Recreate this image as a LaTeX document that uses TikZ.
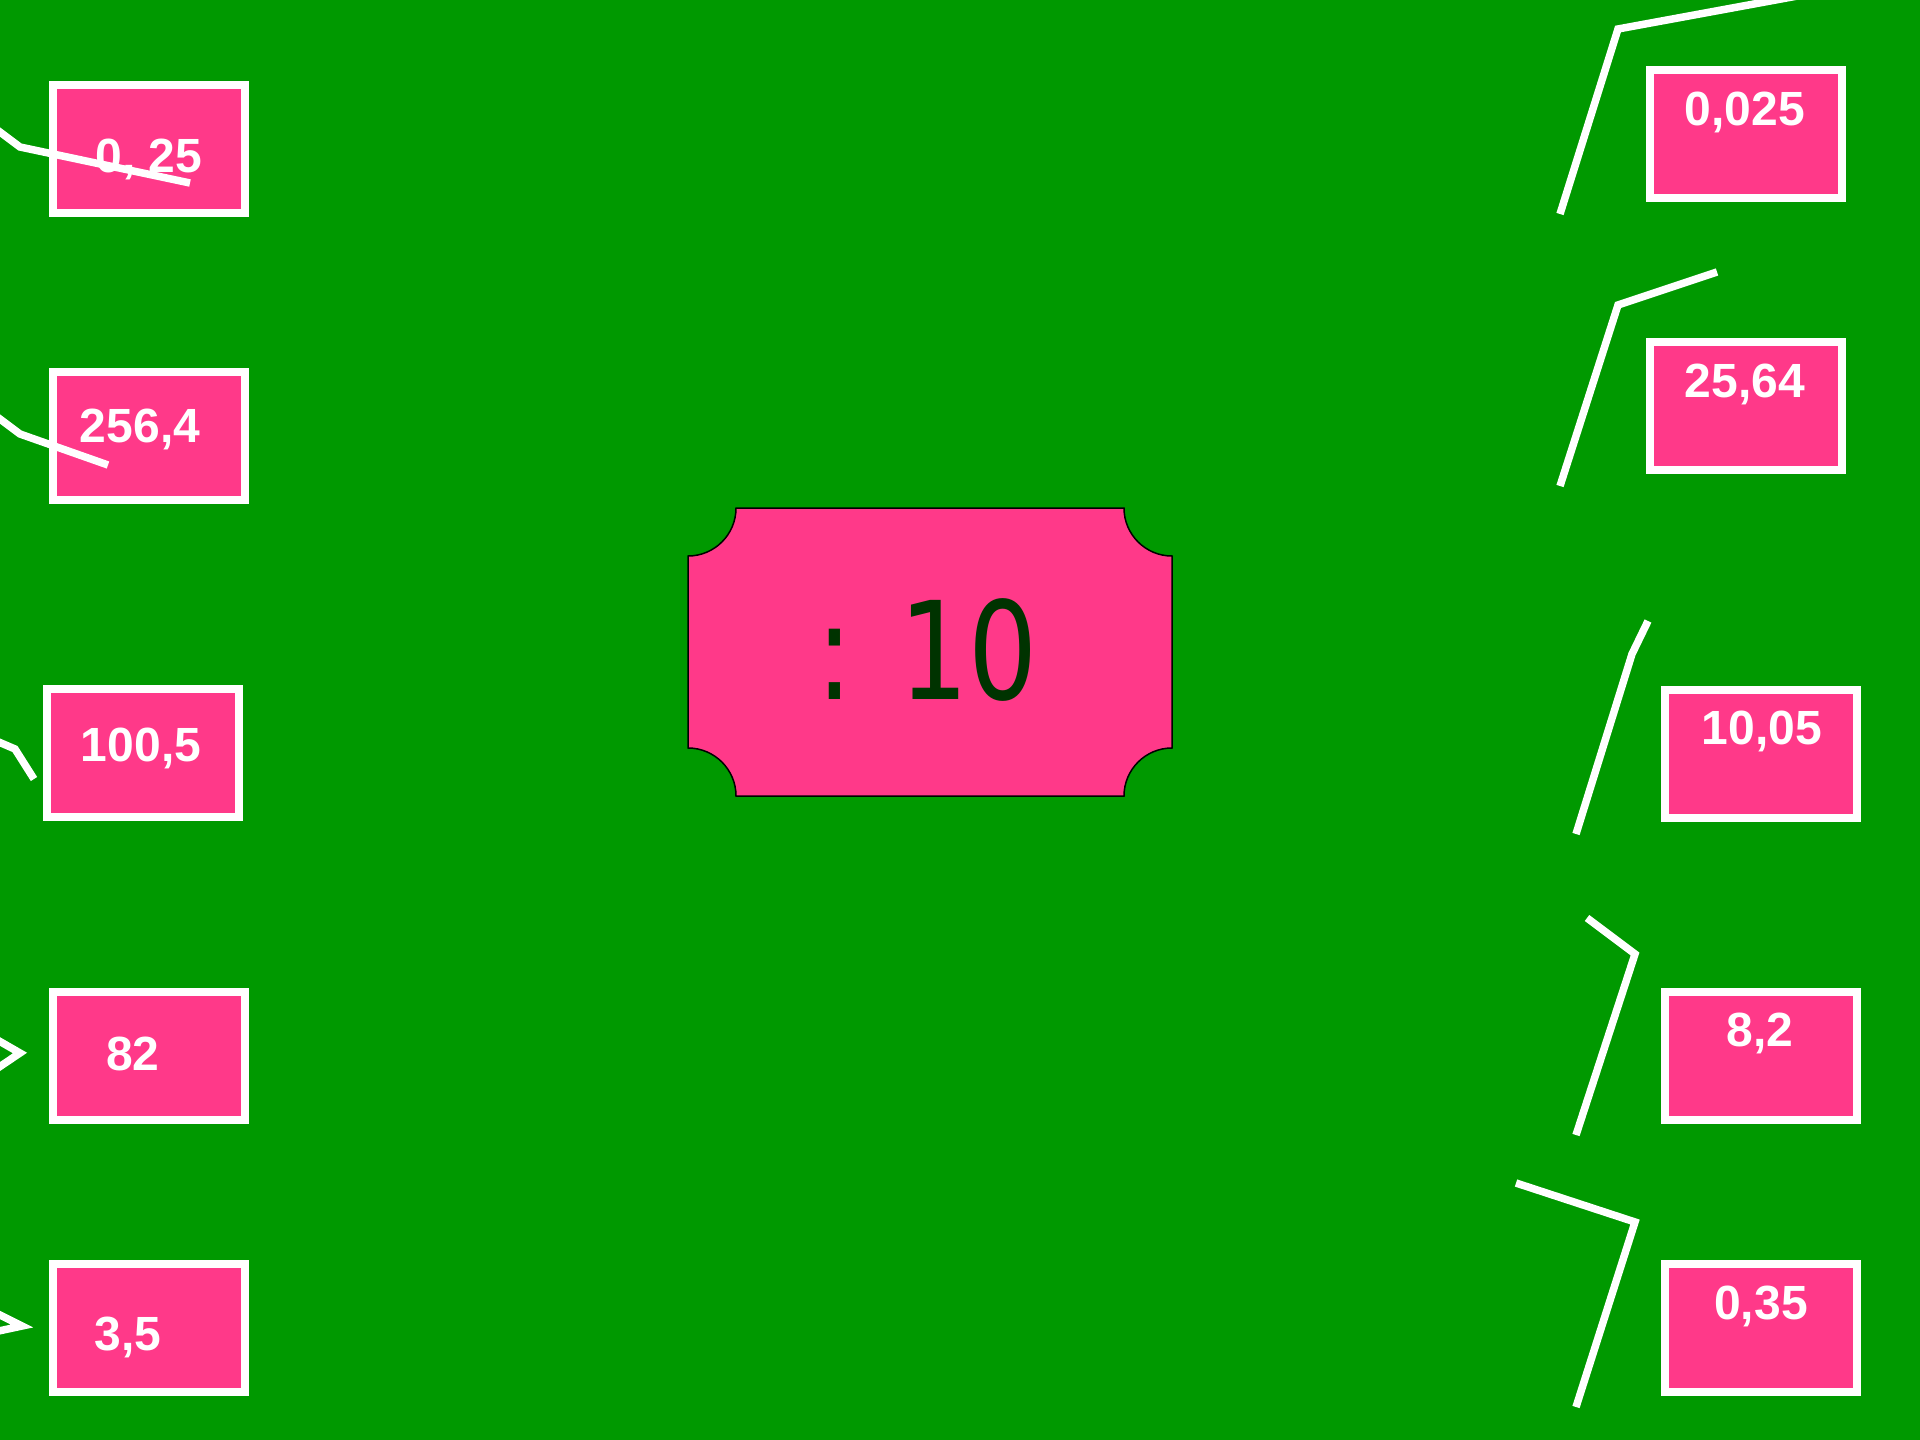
\documentclass[tikz,border=0pt]{standalone}
\usepackage{fontspec}
\setmainfont{Liberation Sans}
\newfontfamily\ticketfont{DejaVu Sans}
\definecolor{bggreen}{RGB}{0,153,0}
\definecolor{boxpink}{RGB}{255,57,137}
\definecolor{darkgreen}{RGB}{0,51,0}
\tikzset{
  numbox/.style={draw=white, line width=8pt, fill=boxpink, minimum width=192pt, minimum height=128pt, inner sep=0pt},
  numtext/.style={anchor=base, inner sep=0pt, text=white, font=\fontsize{48}{56}\selectfont\bfseries},
  wline/.style={draw=white, line width=7.5pt},
  ticket/.style={fill=boxpink, draw=black, line width=1.5pt}
}
\begin{document}
\begin{tikzpicture}[x=1pt,y=-1pt]
\useasboundingbox (0,0) rectangle (1920,1440);
\fill[bggreen] (0,0) rectangle (1920,1440);

% left boxes
\node[numbox] (l1) at (149,149) {};
\node[numbox] (l2) at (149,436) {};
\node[numbox] (l3) at (142.5,753) {};
\node[numbox] (l4) at (149,1055.5) {};
\node[numbox] (l5) at (149,1327.5) {};
% right boxes
\node[numbox] (r1) at (1746,134) {};
\node[numbox] (r2) at (1746,406) {};
\node[numbox] (r3) at (1761,753.5) {};
\node[numbox] (r4) at (1761,1056) {};
\node[numbox] (r5) at (1761,1328) {};

% labels
\node[numtext] (tl1) at (149,172) {0, 25};
\node[numtext] (tl2) at (140,442) {256,4};
\node[numtext] (tl3) at (141,761) {100,5};
\node[numtext] (tl4) at (133,1070) {82};
\node[numtext] (tl5) at (128,1350) {3,5};
\node[numtext] (tr1) at (1745,125) {0,025};
\node[numtext] (tr2) at (1745,397) {25,64};
\node[numtext] (tr3) at (1762,744) {10,05};
\node[numtext] (tr4) at (1760,1046) {8,2};
\node[numtext] (tr5) at (1761,1319) {0,35};

% white strokes
\begin{scope}
\clip (0,0) rectangle (1920,1440);
\draw[wline] (-20,117) -- (20,147) -- (190,183);
\draw[wline] (-20,404) -- (20,434) -- (108,465);
\draw[wline] (-20,734) -- (15,749) -- (34,779);
\draw[wline] (-20,1030) -- (20,1053) -- (-20,1080);
\draw[wline] (-20,1305) -- (22,1326) -- (-20,1335);
\draw[wline] (1830,-10) -- (1618,29) -- (1560,214);
\draw[wline] (1717,272) -- (1618,305) -- (1560,486);
\draw[wline] (1648,621) -- (1632,654) -- (1576,834);
\draw[wline] (1587,918) -- (1635,954) -- (1576,1135);
\draw[wline] (1516,1183) -- (1635,1222) -- (1576,1407);
\end{scope}

% central ticket
\path[ticket] (736,508) -- (1124,508)
  .. controls (1124,534.5) and (1145.5,556) .. (1172,556) -- (1172,748)
  .. controls (1145.5,748) and (1124,769.5) .. (1124,796) -- (736,796)
  .. controls (736,769.5) and (714.5,748) .. (688,748) -- (688,556)
  .. controls (714.5,556) and (736,534.5) .. (736,508) -- cycle;
\node[inner sep=0pt, text=darkgreen] (op) at (927,650) {\scalebox{0.8}[1]{\ticketfont\fontsize{136}{150}\selectfont : 10}};
\end{tikzpicture}
\end{document}
